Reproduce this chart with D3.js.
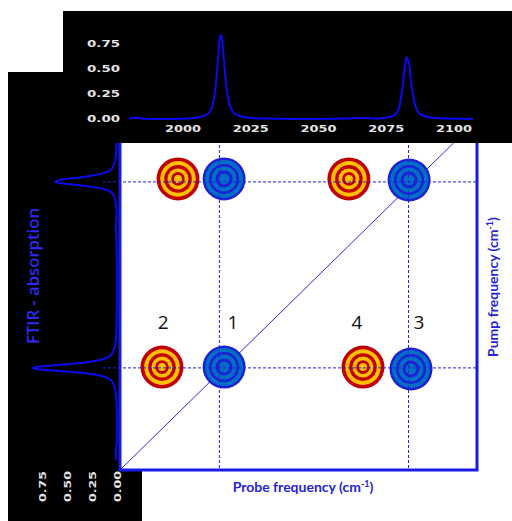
<!DOCTYPE html>
<html>
<head>
<meta charset="utf-8">
<script src="https://d3js.org/d3.v7.min.js"></script>
<style>
  body { margin: 0; background: #fff; }
  svg { display: block; }
</style>
</head>
<body>
<div id="chart"></div>
<script>
// FTIR spectrum (frequency in cm-1, absorbance)
var specFreq = [1980, 1981.5, 1983, 1984.5, 1986, 1990, 1995, 2000, 2004, 2007, 2009, 2010, 2011, 2012, 2013, 2013.5, 2014, 2014.5, 2015, 2016, 2017, 2018, 2019, 2021, 2024, 2030, 2040, 2050, 2060, 2064, 2066, 2068, 2071, 2074, 2076, 2078, 2079, 2080, 2081, 2082, 2082.5, 2083, 2083.5, 2084, 2085, 2086, 2087, 2089, 2092, 2097, 2100, 2107];
var specAbs  = [0.004, 0.010, 0.013, 0.008, 0.003, 0.0, 0.0, 0.002, 0.010, 0.025, 0.05, 0.08, 0.15, 0.31, 0.63, 0.79, 0.84, 0.78, 0.62, 0.32, 0.16, 0.09, 0.055, 0.03, 0.012, 0.004, 0.0, 0.0, 0.004, 0.009, 0.011, 0.008, 0.004, 0.010, 0.02, 0.04, 0.07, 0.14, 0.32, 0.55, 0.62, 0.59, 0.55, 0.40, 0.22, 0.11, 0.06, 0.03, 0.012, 0.005, 0.003, 0.0];

var freqTicks = [2000, 2025, 2050, 2075, 2100];
var absTicks = [0, 0.25, 0.5, 0.75];

// peak positions (dashed guide lines)
var peakFreq = [2014, 2082.5];

// 2D-IR signals
var bleachProbe = [2015.7, 2083.4, 2015.7, 2082.7];
var bleachPump  = [2014.3, 2013.6, 2083.6, 2083.2];
var esaProbe = [1993.2, 2066.0, 1999.0, 2060.9];
var esaPump  = [2014.3, 2014.3, 2083.6, 2083.6];

var peakLabels = ["2", "1", "4", "3"];
var peakLabelProbe = [1993.6, 2018.9, 2063.8, 2086.3];
var peakLabelPump = 2030.9;

var W = 512, H = 521;
var svg = d3.select("#chart").append("svg")
    .attr("width", W).attr("height", H);

svg.append("rect").attr("width", W).attr("height", H).attr("fill", "#fff");

// scales
var x = d3.scaleLinear().domain([1978, 2107.3]).range([120, 477]);
var y = d3.scaleLinear().domain([1976.4, 2105.3]).range([470, 120]);
var topX = d3.scaleLinear().domain([2000, 2100]).range([183, 454]);
var topY = d3.scaleLinear().domain([0, 0.75]).range([119, 44]);
var leftX = d3.scaleLinear().domain([0, 0.75]).range([117, 42]);

var spec = specFreq.map(function(f, i) { return { f: f, a: specAbs[i] }; });

var tickFont = "'DejaVu Sans', sans-serif";
var blueText = "#2424dc";
var lineBlue = "#0a0af0";

// left black panel
svg.append("rect").attr("x", 8).attr("y", 72).attr("width", 134).attr("height", H - 72).attr("fill", "#000");

// main plot
var plot = svg.append("g");
plot.append("rect")
    .attr("x", x.range()[0]).attr("y", y.range()[1])
    .attr("width", x.range()[1] - x.range()[0])
    .attr("height", y.range()[0] - y.range()[1])
    .attr("fill", "#fff");

// diagonal
plot.append("line")
    .attr("x1", x(x.domain()[0])).attr("y1", y(y.domain()[0]))
    .attr("x2", x(x.domain()[1])).attr("y2", y(y.domain()[1]))
    .attr("stroke", "#2a2ae8").attr("stroke-width", 1);

function target(g, cx, cy, radii, colors) {
    radii.forEach(function(r, i) {
        g.append("circle").attr("cx", cx).attr("cy", cy).attr("r", r).attr("fill", colors[i % 2]);
    });
}

bleachProbe.forEach(function(p, i) {
    target(plot, x(p), y(bleachPump[i]), [21.5, 19, 15, 12.5, 8.5, 5.5], ["#1f1fd6", "#0070c4"]);
});
esaProbe.forEach(function(p, i) {
    target(plot, x(p), y(esaPump[i]), [21.5, 17.8, 13.8, 10.5, 6.8, 4], ["#c00000", "#ffc000"]);
});

// dashed guide lines
peakFreq.forEach(function(f) {
    plot.append("line")
        .attr("x1", x(f)).attr("x2", x(f))
        .attr("y1", y.range()[1]).attr("y2", y.range()[0])
        .attr("stroke", "#2222e0").attr("stroke-width", 1).attr("stroke-dasharray", "3,2");
    plot.append("line")
        .attr("x1", 103).attr("x2", x.range()[1])
        .attr("y1", y(f)).attr("y2", y(f))
        .attr("stroke", "#2222e0").attr("stroke-width", 1).attr("stroke-dasharray", "3,2");
});

// frame (left, bottom, right)
plot.append("path")
    .attr("d", "M" + x.range()[0] + "," + y.range()[1] + "V" + y.range()[0] + "H" + x.range()[1] + "V" + y.range()[1])
    .attr("fill", "none").attr("stroke", "#1a1ae6").attr("stroke-width", 3);

// left (rotated) spectrum
svg.append("path")
    .datum(spec)
    .attr("d", d3.line().x(function(d) { return leftX(d.a); }).y(function(d) { return y(d.f); }).curve(d3.curveMonotoneY))
    .attr("fill", "none").attr("stroke", lineBlue).attr("stroke-width", 2);

absTicks.forEach(function(v) {
    svg.append("text")
        .attr("transform", "translate(" + (leftX(v) + 1) + ",471) rotate(-90)")
        .attr("text-anchor", "end").attr("dominant-baseline", "central")
        .attr("textLength", 31).attr("lengthAdjust", "spacingAndGlyphs")
        .style("font-family", tickFont).style("font-weight", "bold").style("font-size", "8px")
        .attr("fill", "#e4e4e4")
        .text(v.toFixed(2));
});

// top black panel
svg.append("rect").attr("x", 63).attr("y", 11).attr("width", W - 63).attr("height", 132).attr("fill", "#000");

svg.append("path")
    .datum(spec)
    .attr("d", d3.line().x(function(d) { return topX(d.f); }).y(function(d) { return topY(d.a); }).curve(d3.curveMonotoneX))
    .attr("fill", "none").attr("stroke", lineBlue).attr("stroke-width", 2);

absTicks.forEach(function(v) {
    svg.append("text")
        .attr("x", 120).attr("y", topY(v))
        .attr("text-anchor", "end").attr("dominant-baseline", "central")
        .attr("textLength", 33).attr("lengthAdjust", "spacingAndGlyphs")
        .style("font-family", tickFont).style("font-weight", "bold").style("font-size", "8px")
        .attr("fill", "#e4e4e4")
        .text(v.toFixed(2));
});
freqTicks.forEach(function(v) {
    svg.append("text")
        .attr("x", topX(v)).attr("y", 129)
        .attr("text-anchor", "middle").attr("dominant-baseline", "central")
        .attr("textLength", 36).attr("lengthAdjust", "spacingAndGlyphs")
        .style("font-family", tickFont).style("font-weight", "bold").style("font-size", "8px")
        .attr("fill", "#e4e4e4")
        .text(v);
});

// peak numbers
peakLabels.forEach(function(t, i) {
    svg.append("text")
        .attr("x", x(peakLabelProbe[i])).attr("y", y(peakLabelPump))
        .attr("text-anchor", "middle").attr("dominant-baseline", "central")
        .style("font-family", "'Open Sans', sans-serif").style("font-size", "19px")
        .attr("fill", "#111")
        .text(t);
});

// axis titles
var probe = svg.append("text")
    .attr("x", 303).attr("y", 492)
    .attr("text-anchor", "middle")
    .style("font-family", "Lato, 'Open Sans', sans-serif").style("font-weight", "bold").style("font-size", "14px")
    .attr("fill", blueText);
probe.append("tspan").text("Probe frequency (cm");
probe.append("tspan").attr("dy", -5).style("font-size", "9px").text("-1");
probe.append("tspan").attr("dy", 5).text(")");

var pump = svg.append("text")
    .attr("transform", "translate(498,287) rotate(-90)")
    .attr("text-anchor", "middle")
    .style("font-family", "Lato, 'Open Sans', sans-serif").style("font-weight", "bold").style("font-size", "14px")
    .attr("fill", blueText);
pump.append("tspan").text("Pump frequency (cm");
pump.append("tspan").attr("dy", -5).style("font-size", "9px").text("-1");
pump.append("tspan").attr("dy", 5).text(")");

svg.append("text")
    .attr("transform", "translate(39,276) rotate(-90)")
    .attr("text-anchor", "middle")
    .attr("textLength", 136).attr("lengthAdjust", "spacingAndGlyphs")
    .style("font-family", "'Open Sans', sans-serif").style("font-weight", "600").style("font-size", "16px")
    .attr("fill", "#2b2bf2")
    .text("FTIR - absorption");
</script>
</body>
</html>
